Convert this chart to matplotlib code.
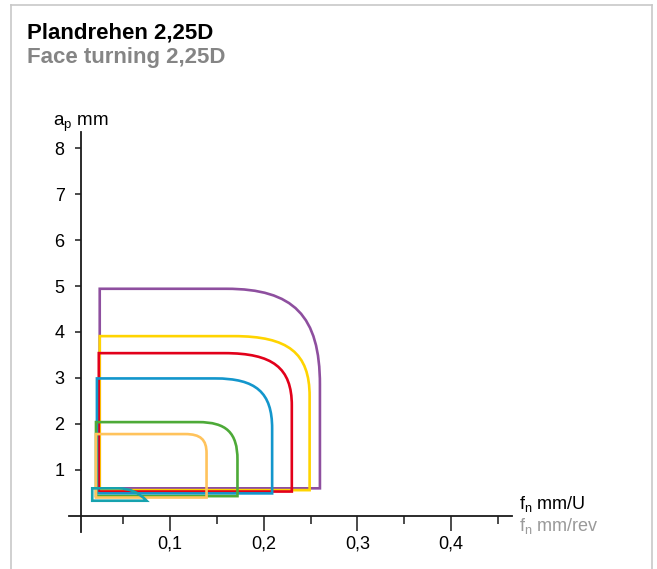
import matplotlib
matplotlib.use("Agg")
import matplotlib.pyplot as plt
from matplotlib.path import Path
from matplotlib.patches import PathPatch
from matplotlib.lines import Line2D
from matplotlib.ticker import FixedLocator

plt.rcParams['font.family'] = ['Liberation Sans', 'DejaVu Sans']
plt.rcParams['mathtext.fontset'] = 'custom'
plt.rcParams['mathtext.rm'] = 'Liberation Sans'

# --- data (fn in mm/U, ap in mm) ---
names = ['purple', 'yellow', 'red', 'blue', 'green', 'orange']
colors = ['#8E4F9F', '#FFD400', '#E2001A', '#1396CC', '#4DAA38', '#FFC35C']
fn_min = [0.025, 0.025, 0.024, 0.022, 0.021, 0.021]
fn_max = [0.260, 0.249, 0.230, 0.209, 0.172, 0.139]
ap_min = [0.60, 0.56, 0.53, 0.49, 0.43, 0.40]
ap_max = [4.94, 3.91, 3.54, 2.99, 2.04, 1.78]
fn_bend = [0.160, 0.168, 0.158, 0.148, 0.130, 0.116]   # top edge starts to curve
ap_bend = [2.85, 2.60, 2.40, 1.90, 1.22, 1.36]         # right edge straight below

# small teal triangle at the bottom left
teal_color = '#16A2AE'
teal_fn = [0.017, 0.017, 0.045, 0.075]
teal_ap = [0.33, 0.60, 0.60, 0.33]

x_ticks = [0.1, 0.2, 0.3, 0.4]
x_labels = ['0,1', '0,2', '0,3', '0,4']
x_minor = [0.05, 0.15, 0.25, 0.35, 0.45]
y_ticks = [1, 2, 3, 4, 5, 6, 7, 8]

W, H = 657, 569
fig = plt.figure(figsize=(W / 100, H / 100), dpi=100)

# axes placed in pixels: x 69..512, y 132..532 (from top)
ax = fig.add_axes([69 / W, (H - 532) / H, (512 - 69) / W, (532 - 132) / H])
ax.set_xlim(-0.0078, 0.465)
ax.set_ylim(-0.35, 8.35)


def rounded_box(x0, x1, y0, y1, xb, yb, k=0.72):
    verts = [(x0, y0), (x0, y1), (xb, y1),
             (xb + k * (x1 - xb), y1), (x1, yb + k * (y1 - yb)), (x1, yb),
             (x1, y0), (x0, y0)]
    codes = [Path.MOVETO, Path.LINETO, Path.LINETO,
             Path.CURVE4, Path.CURVE4, Path.CURVE4,
             Path.LINETO, Path.CLOSEPOLY]
    return Path(verts, codes)


for i in range(len(names)):
    p = rounded_box(fn_min[i], fn_max[i], ap_min[i], ap_max[i], fn_bend[i], ap_bend[i])
    ax.add_patch(PathPatch(p, facecolor='none', edgecolor=colors[i], lw=1.9,
                           joinstyle='miter'))

# teal: flat top then a bowed edge down to the tip
tv = [(teal_fn[0], teal_ap[0]), (teal_fn[1], teal_ap[1]), (teal_fn[2], teal_ap[2]),
      (teal_fn[2] + 0.6 * (teal_fn[3] - teal_fn[2]), teal_ap[2]),
      (teal_fn[3], teal_ap[3]), (teal_fn[0], teal_ap[0])]
tc = [Path.MOVETO, Path.LINETO, Path.LINETO, Path.CURVE3, Path.CURVE3, Path.CLOSEPOLY]
ax.add_patch(PathPatch(Path(tv, tc), facecolor='none', edgecolor=teal_color, lw=1.9))

# axes styling
for s in ['top', 'right']:
    ax.spines[s].set_visible(False)
ax.spines['bottom'].set_position(('data', 0))
ax.spines['left'].set_position(('data', 0.0045))
for s in ['bottom', 'left']:
    ax.spines[s].set_linewidth(1.3)
    ax.spines[s].set_color('#1a1a1a')

ax.xaxis.set_major_locator(FixedLocator(x_ticks))
ax.set_xticklabels(x_labels)
ax.xaxis.set_minor_locator(FixedLocator(x_minor))
ax.tick_params(axis='x', which='major', direction='out', length=11, width=1.1,
               labelsize=13, pad=3, color='#1a1a1a')
ax.tick_params(axis='x', which='minor', direction='out', length=6, width=1.1,
               color='#1a1a1a')
ax.set_yticks(y_ticks)
ax.set_yticklabels([str(v) for v in y_ticks])
ax.tick_params(axis='y', direction='out', length=4.5, width=1.1, labelsize=13,
               pad=7, color='#1a1a1a')
ax.patch.set_alpha(0)

# axis unit labels
fig.text(53 / W, 1 - 126 / H, r'a$_\mathrm{p}$ mm', fontsize=13.5, va='baseline')
fig.text(519 / W, 1 - 509 / H, r'f$_\mathrm{n}$ mm/U', fontsize=13, va='baseline')
fig.text(519 / W, 1 - 531 / H, r'f$_\mathrm{n}$ mm/rev', fontsize=13, va='baseline',
         color='#9a9a9a')

# titles
fig.text(27 / W, 1 - 39 / H, 'Plandrehen 2,25D', fontsize=16, fontweight='bold',
         va='baseline')
fig.text(27 / W, 1 - 63 / H, 'Face turning 2,25D', fontsize=16, fontweight='bold',
         va='baseline', color='#858585')

# light frame around the panel
frame = '#c8c8c8'
top = 1 - 5 / H
fig.add_artist(Line2D([11 / W, 11 / W], [0, top], color=frame, lw=1.2))
fig.add_artist(Line2D([11 / W, 652 / W], [top, top], color=frame, lw=1.2))
fig.add_artist(Line2D([652 / W, 652 / W], [0, top], color=frame, lw=1.2))

fig.savefig('out.png', dpi=100)
